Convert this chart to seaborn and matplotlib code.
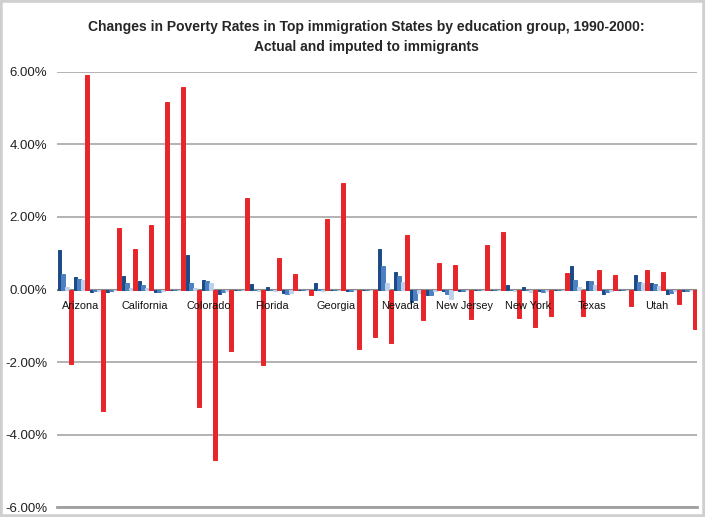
import numpy as np
import pandas as pd
import matplotlib
matplotlib.use("Agg")
import matplotlib.pyplot as plt
import seaborn as sns
from matplotlib.ticker import FuncFormatter
from matplotlib.patches import Rectangle

# Data (change in poverty rate, percentage points)
states = ["Arizona", "California", "Colorado", "Florida", "Georgia",
          "Nevada", "New Jersey", "New York", "Texas", "Utah"]
edu_groups = ["Less than HS", "High school", "Some college", "College"]
series_names = ["Series 1", "Series 2", "Series 3", "Series 4"]

dark_blue = [1.09, 0.35, -0.08, -0.06,
             0.37, 0.24, -0.08, -0.02,
             0.95, 0.26, -0.11, -0.02,
             0.15, 0.07, -0.09, -0.02,
             0.18, -0.02, -0.03, -0.02,
             1.13, 0.47, -0.34, -0.16,
             -0.03, -0.03, -0.02, -0.02,
             0.12, 0.06, -0.03, -0.02,
             0.65, 0.24, -0.13, -0.02,
             0.40, 0.18, -0.13, -0.03]
mid_blue = [0.44, 0.30, -0.05, -0.04,
            0.17, 0.12, -0.06, -0.02,
            0.18, 0.24, -0.08, -0.02,
            -0.02, -0.02, -0.12, -0.02,
            0.02, -0.02, -0.03, -0.02,
            0.65, 0.37, -0.30, -0.16,
            -0.12, -0.03, -0.02, -0.02,
            -0.02, -0.02, -0.06, -0.02,
            0.26, 0.24, -0.08, -0.02,
            0.21, 0.15, -0.10, -0.03]
light_blue = [0.07, 0.26, -0.03, -0.02,
              0.05, 0.04, -0.03, 0.00,
              0.05, 0.18, -0.05, 0.00,
              -0.05, -0.04, -0.10, -0.01,
              -0.03, 0.00, -0.01, -0.01,
              0.18, 0.21, -0.10, -0.05,
              -0.25, -0.02, -0.01, -0.01,
              -0.05, -0.06, -0.04, -0.01,
              0.07, 0.12, -0.03, -0.01,
              0.17, 0.09, -0.05, -0.02]
red = [-2.05, 5.90, -3.34, 1.70,
       1.11, 1.77, 5.16, 5.59,
       -3.25, -4.70, -1.70, 2.52,
       -2.07, 0.86, 0.42, -0.14,
       1.94, 2.93, -1.63, -1.31,
       -1.48, 1.50, -0.85, 0.72,
       0.67, -0.80, 1.23, 1.59,
       -0.78, -1.03, -0.74, 0.46,
       -0.74, 0.53, 0.40, -0.46,
       0.55, 0.49, -0.41, -1.08]

colors = ["#1d4a86", "#4d80c0", "#bcd2ec", "#e8252a"]

# long format table for seaborn
rows = []
for k in range(len(red)):
    for name, vals in zip(series_names, [dark_blue, mid_blue, light_blue, red]):
        rows.append({"cat": k, "series": name, "value": vals[k]})
df = pd.DataFrame(rows)

sns.set_theme(style="white")
plt.rcParams["font.family"] = ["Liberation Sans", "DejaVu Sans"]

fig, ax = plt.subplots(figsize=(7.05, 5.17), dpi=100)
fig.subplots_adjust(left=0.081, right=0.989, bottom=0.019, top=0.861)

sns.barplot(data=df, x="cat", y="value", hue="series", palette=colors,
            width=0.95, saturation=1, legend=False, ax=ax)
# slightly fatter, overlapping bars like the original spreadsheet chart
for p in ax.patches:
    p.set_edgecolor(p.get_facecolor())
    p.set_linewidth(0.7)

ax.set_ylim(-6, 6)
ax.set_yticks(np.arange(-6, 7, 2))
ax.yaxis.set_major_formatter(FuncFormatter(lambda v, p: f"{v:.2f}%"))
ax.tick_params(axis="y", length=0, pad=7, labelsize=9.5, labelcolor="#222222")
ax.set_xticks([])
ax.set_xlabel("")
ax.set_ylabel("")
ax.set_axisbelow(True)
ax.yaxis.grid(True, color="#a6a6a6", linewidth=1.2)
for s in ["top", "right", "left"]:
    ax.spines[s].set_visible(False)
ax.spines["bottom"].set_color("#a0a0a0")
ax.spines["bottom"].set_linewidth(2)
ax.axhline(0, color="#8a8a8a", linewidth=1.5, zorder=0.9)

# state labels just under the zero line
for i, st in enumerate(states):
    ax.annotate(st, xy=(4 * i + 0.95, 0), xytext=(0, -8.5), textcoords="offset points",
                ha="center", va="top", fontsize=7.8, color="#111111", zorder=5)

fig.text(0.52, 0.928,
         "Changes in Poverty Rates in Top immigration States by education group, 1990-2000:\n"
         "Actual and imputed to immigrants",
         ha="center", va="center", fontsize=10, fontweight="bold", linespacing=1.5)

fig.patches.append(Rectangle((0, 0), 1, 1, transform=fig.transFigure, fill=False,
                             edgecolor="#cfcfcf", linewidth=4, zorder=10))

plt.savefig("out.png", dpi=100)
